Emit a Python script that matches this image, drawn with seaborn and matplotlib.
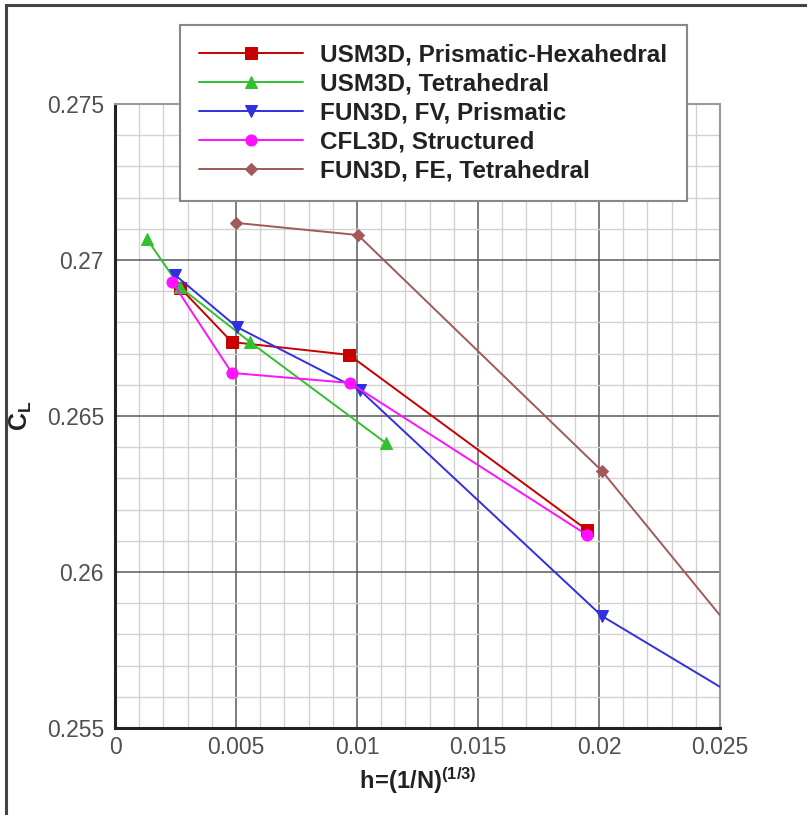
import pandas as pd
import matplotlib.pyplot as plt
import seaborn as sns
import numpy as np
from matplotlib.patches import Rectangle
from matplotlib.ticker import MultipleLocator, FuncFormatter

# grid convergence data, C_L vs h
usm3d_hex_h = [0.0027, 0.00483, 0.00967, 0.0195]
usm3d_hex_cl = [0.2691, 0.26737, 0.26696, 0.26135]

usm3d_tet_h = [0.00132, 0.00269, 0.00558, 0.0112]
usm3d_tet_cl = [0.27067, 0.26913, 0.26737, 0.26413]

fun3d_fv_h = [0.00248, 0.00504, 0.01012, 0.02012, 0.0403]
fun3d_fv_cl = [0.26952, 0.26785, 0.26583, 0.25859, 0.2492]

cfl3d_h = [0.00236, 0.00483, 0.00971, 0.0195]
cfl3d_cl = [0.2693, 0.26638, 0.26606, 0.26119]

fun3d_fe_h = [0.0050, 0.01004, 0.02012, 0.0403]
fun3d_fe_cl = [0.27119, 0.2708, 0.26324, 0.2441]

series = [
    ("USM3D, Prismatic-Hexahedral", usm3d_hex_h, usm3d_hex_cl, "#c80000", "s"),
    ("USM3D, Tetrahedral", usm3d_tet_h, usm3d_tet_cl, "#30c030", "^"),
    ("FUN3D, FV, Prismatic", fun3d_fv_h, fun3d_fv_cl, "#3030e0", "v"),
    ("CFL3D, Structured", cfl3d_h, cfl3d_cl, "#ff10ff", "o"),
    ("FUN3D, FE, Tetrahedral", fun3d_fe_h, fun3d_fe_cl, "#a05a5a", "D"),
]

sns.set_style("white")
plt.rcParams['font.family'] = ['Liberation Sans', 'DejaVu Sans']
plt.rcParams['mathtext.fontset'] = 'custom'
plt.rcParams['mathtext.rm'] = 'Liberation Sans'
plt.rcParams['mathtext.bf'] = 'Liberation Sans:bold'

fig = plt.figure(figsize=(8.07, 8.15), dpi=100)
ax = fig.add_axes([115 / 807, 1 - 728 / 815, 605 / 807, 624 / 815])

for name, h, cl, col, mk in series:
    df = pd.DataFrame({"h": h, "CL": cl})
    ms = 6.5 if mk == "D" else 8
    sns.lineplot(data=df, x="h", y="CL", ax=ax, color=col, marker=mk,
                 markersize=ms, markeredgecolor=col, linewidth=1.4,
                 label=name, sort=False, zorder=3)

ax.set_xlim(0, 0.025)
ax.set_ylim(0.255, 0.275)
ax.xaxis.set_major_locator(MultipleLocator(0.005))
ax.xaxis.set_minor_locator(MultipleLocator(0.001))
ax.yaxis.set_major_locator(MultipleLocator(0.005))
ax.yaxis.set_minor_locator(MultipleLocator(0.001))
fmt = FuncFormatter(lambda v, p: "0" if abs(v) < 1e-12 else ("%.3f" % v).rstrip("0"))
ax.xaxis.set_major_formatter(fmt)
ax.yaxis.set_major_formatter(fmt)

ax.grid(which="major", color="#5a5a5a", linewidth=1.1, zorder=0)
ax.grid(which="minor", color="#d2d2d2", linewidth=1.0, zorder=0)
ax.set_axisbelow(True)

ax.tick_params(which="both", direction="in", top=False, right=False,
               labelsize=16.5, labelcolor="#505050", color="#222222")
ax.tick_params(which="major", length=15, width=2)
ax.tick_params(which="minor", length=8, width=1.5)
ax.tick_params(axis="x", pad=6)
ax.tick_params(axis="y", pad=8)

for s in ["left", "bottom"]:
    ax.spines[s].set_color("#222222")
    ax.spines[s].set_linewidth(2.2)
for s in ["top", "right"]:
    ax.spines[s].set_color("#999999")
    ax.spines[s].set_linewidth(1.5)

ax.set_xlabel(r"$\mathbf{h\!=\!(1/N)^{(1/3)}}$", fontsize=17, color="#222222", labelpad=4)
ax.set_ylabel(r"$\mathbf{C_L}$", fontsize=18, color="#222222", labelpad=9)

handles, labels = ax.get_legend_handles_labels()
ax.get_legend().remove()
leg = fig.legend(handles, labels, loc="upper left",
                 bbox_to_anchor=(180 / 807, 1 - 25 / 815), borderaxespad=0,
                 prop={"weight": "bold", "size": 17.5}, labelcolor="#222222",
                 handlelength=4.3, handletextpad=0.7, labelspacing=0.24,
                 borderpad=0.78, fancybox=False, framealpha=1, edgecolor="#888888")
leg.get_frame().set_linewidth(1.5)

# outer frame around the picture
fig.patches.append(Rectangle((6 / 807, -0.05), 1.1, 1 - 5 / 815 + 0.05,
                             transform=fig.transFigure, fill=False,
                             edgecolor="#444444", linewidth=2.2))

plt.savefig("out.png", dpi=100)
